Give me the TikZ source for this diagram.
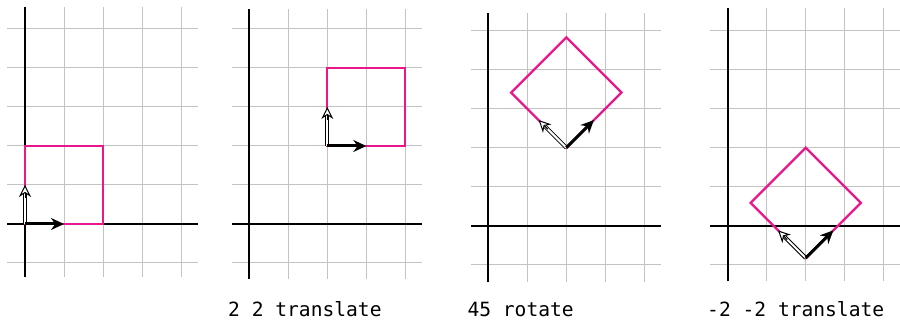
\documentclass[tikz,border=0pt]{standalone}
\usepackage{fontspec}
\setmonofont{DejaVu Sans Mono}
\usetikzlibrary{arrows.meta,calc}
\definecolor{sqmag}{RGB}{232,24,140}
\definecolor{gridgray}{RGB}{195,195,195}
\newcommand\mygridpanel[2]{%
  \foreach \i in {0,...,4} \draw[gridline] (\i,#1) -- (\i,#2);
  \foreach \j in {-1,...,5} \draw[gridline] (-0.45,\j) -- (4.43,\j);
  \draw[axisline] (0,#1) -- (0,#2);
  \draw[axisline] (-0.45,0) -- (4.43,0);
}
\newcommand\myframe[1]{%
  \coordinate (#1o) at (0,0);
  \coordinate (#1x) at (1,0);
  \coordinate (#1y) at (0,1);
  \draw[sqline] (0,0) -- (2,0) -- (2,2) -- (0,2) -- cycle;
  \draw[whiteshaft] (#1o) -- ($(#1y)!7pt!(#1o)$);
  \draw[whitehead] ($(#1y)!13pt!(#1o)$) -- (#1y);
  \draw[blackarrow] (#1o) -- (#1x);
}
\begin{document}
\begin{tikzpicture}[x=1pt,y=1pt,
 gridline/.style={draw=gridgray,line width=1pt},
 axisline/.style={draw=black,line width=2pt},
 sqline/.style={draw=sqmag,line width=2.3pt,line join=miter},
 blackarrow/.style={draw=black,line width=3pt,-{Stealth[length=13pt 0 0,width=12pt 0]}},
 whiteshaft/.style={draw=black,double=white,double distance=2pt,line width=1pt},
 whitehead/.style={draw=black,line width=1pt,-{Stealth[length=12pt 0 0,width=12pt 0,fill=white]}},
 lbl/.style={font=\ttfamily\fontsize{19.6}{20}\selectfont,anchor=base west,inner sep=0pt}]
\useasboundingbox (0,0) rectangle (900,321);
% panel 1
\begin{scope}[shift={(25,97)},x=39pt,y=39pt]
  \mygridpanel{-1.36}{5.56}
  \myframe{a}
\end{scope}
% panel 2
\begin{scope}[shift={(249.3,97)},x=39pt,y=39pt]
  \mygridpanel{-1.41}{5.5}
  \begin{scope}[shift={(2,2)}]
    \myframe{b}
  \end{scope}
\end{scope}
% panel 3
\begin{scope}[shift={(488.3,95.3)},x=39pt,y=39pt]
  \mygridpanel{-1.44}{5.45}
  \begin{scope}[shift={(2,2)},rotate=45]
    \myframe{c}
  \end{scope}
\end{scope}
% panel 4
\begin{scope}[shift={(727.7,95.3)},x=39pt,y=39pt]
  \mygridpanel{-1.42}{5.57}
  \begin{scope}[shift={(2,2)},rotate=45,shift={(-2,-2)}]
    \myframe{d}
  \end{scope}
\end{scope}
\node[lbl] (t2) at (228,4.7) {2 2 translate};
\node[lbl] (t3) at (467.3,4.7) {45 rotate};
\node[lbl] (t4) at (707,4.7) {-2 -2 translate};
\end{tikzpicture}
\end{document}
